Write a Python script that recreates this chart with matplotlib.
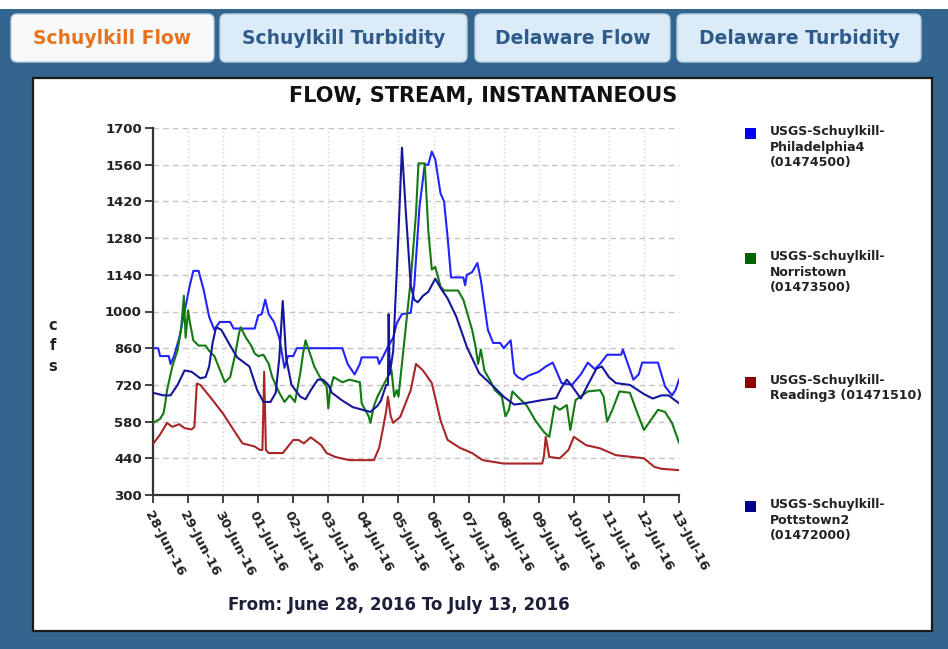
import matplotlib
matplotlib.use('Agg')
import matplotlib.pyplot as plt
from matplotlib.patches import Rectangle, FancyBboxPatch

# ---------------- data ----------------
tick_labels = ['28-Jun-16', '29-Jun-16', '30-Jun-16', '01-Jul-16', '02-Jul-16', '03-Jul-16',
               '04-Jul-16', '05-Jul-16', '06-Jul-16', '07-Jul-16', '08-Jul-16', '09-Jul-16',
               '10-Jul-16', '11-Jul-16', '12-Jul-16', '13-Jul-16']
y_ticks = [300, 440, 580, 720, 860, 1000, 1140, 1280, 1420, 1560, 1700]

# days since 28-Jun-16 00:00 and flow (cfs)
phila_days = [0, 0.15, 0.2, 0.45, 0.5, 0.6, 0.75, 0.9, 1.05, 1.15, 1.3, 1.45, 1.6, 1.75, 1.9, 2.2,
              2.3, 2.9, 2.95, 3.0, 3.1, 3.2, 3.3, 3.45, 3.6, 3.75, 3.85, 4.0, 4.1, 5.4, 5.55, 5.75,
              5.9, 5.95, 6.4, 6.45, 6.55, 6.7, 6.85, 6.95, 7.1, 7.35, 7.45, 7.6, 7.75, 7.85, 7.95,
              8.05, 8.2, 8.3, 8.4, 8.5, 8.85, 8.9, 8.95, 9.1, 9.25, 9.35, 9.55, 9.7, 9.9, 10.0,
              10.2, 10.3, 10.4, 10.55, 10.7, 11.0, 11.2, 11.4, 11.65, 11.95, 12.2, 12.4, 12.6,
              12.75, 12.95, 13.35, 13.4, 13.45, 13.7, 13.85, 13.95, 14.4, 14.6, 14.8, 14.9, 15.0]
phila_cfs = [860, 860, 830, 830, 800, 830, 900, 1000, 1100, 1155, 1155, 1080, 980, 930, 960, 960,
             935, 935, 960, 985, 990, 1045, 990, 960, 900, 785, 830, 830, 860, 860, 800, 760,
             800, 825, 825, 800, 825, 865, 900, 955, 990, 995, 1100, 1400, 1560, 1560, 1610,
             1580, 1450, 1420, 1285, 1130, 1130, 1100, 1140, 1150, 1185, 1120, 930, 880, 880, 860,
             890, 765, 750, 740, 755, 770, 790, 805, 727, 720, 760, 805, 780,
             800, 835, 835, 855, 835, 740, 760, 805, 805, 715, 680, 700, 740]

norr_days = [0, 0.2, 0.3, 0.35, 0.4, 0.55, 0.7, 0.8, 0.88, 0.93, 1.0, 1.05, 1.15, 1.3, 1.5, 1.6,
             1.75, 1.9, 2.05, 2.2, 2.35, 2.45, 2.5, 2.65, 2.8, 2.9, 3.0, 3.15, 3.3, 3.4, 3.6, 3.75,
             3.9, 4.05, 4.2, 4.28, 4.35, 4.5, 4.6, 4.8, 4.95, 5.0, 5.05, 5.15, 5.4, 5.6, 5.9, 5.95,
             6.15, 6.2, 6.3, 6.4, 6.6, 6.8, 6.88, 6.95, 7.0, 7.15, 7.35, 7.5, 7.57, 7.75, 7.85,
             7.95, 8.05, 8.2, 8.3, 8.7, 8.85, 9.1, 9.2, 9.27, 9.35, 9.45, 9.6, 9.75, 9.95, 10.05,
             10.15, 10.25, 10.45, 10.65, 10.9, 11.15, 11.3, 11.35, 11.45, 11.6, 11.8, 11.9, 12.05,
             12.4, 12.75, 12.85, 12.95, 13.1, 13.3, 13.6, 13.8, 14.0, 14.4, 14.6, 14.8, 15.0]
norr_cfs = [575, 590, 612, 650, 700, 790, 852, 930, 1060, 900, 1005, 960, 890, 870, 870, 850,
            830, 780, 730, 750, 840, 915, 940, 900, 870, 840, 830, 835, 800, 750, 690, 655,
            680, 655, 765, 840, 890, 830, 790, 740, 715, 630, 700, 750, 730, 740, 730, 650,
            600, 575, 640, 675, 727, 777, 675, 700, 675, 865, 1120, 1375, 1565, 1565, 1310,
            1160, 1170, 1095, 1080, 1080, 1045, 930, 865, 800, 855, 775, 740, 700, 675, 600,
            625, 695, 668, 643, 585, 540, 522, 560, 640, 625, 643, 548, 662,
            695, 700, 675, 580, 625, 695, 690, 617, 548, 625, 617, 575, 500]

read_days = [0, 0.2, 0.4, 0.55, 0.75, 0.9, 1.1, 1.18, 1.25, 1.35, 1.7, 2.0, 2.3, 2.55, 2.9, 3.05,
             3.12, 3.17, 3.22, 3.3, 3.7, 4.0, 4.15, 4.3, 4.5, 4.65, 4.8, 4.95, 5.2, 5.6, 6.3, 6.45,
             6.55, 6.65, 6.7, 6.78, 6.85, 7.05, 7.35, 7.5, 7.7, 7.95, 8.2, 8.4, 8.75, 9.1, 9.4,
             10.0, 11.1, 11.15, 11.2, 11.3, 11.6, 11.85, 12.0, 12.35, 12.75, 13.2, 14.0, 14.3,
             14.5, 15.0]
read_cfs = [495, 530, 575, 560, 570, 555, 550, 560, 725, 720, 662, 610, 548, 497, 485, 472,
            472, 770, 472, 460, 460, 510, 510, 497, 520, 505, 490, 460, 445, 433, 433, 480,
            548, 620, 675, 600, 575, 598, 700, 800, 775, 727, 585, 510, 480, 460, 433,
            420, 420, 450, 522, 445, 440, 472, 522, 490, 478, 452, 440, 407,
            400, 395]

potts_days = [0, 0.3, 0.5, 0.7, 0.9, 1.1, 1.35, 1.5, 1.6, 1.7, 1.8, 1.95, 2.2, 2.4, 2.75, 2.97,
              3.15, 3.35, 3.5, 3.6, 3.7, 3.8, 3.95, 4.2, 4.35, 4.5, 4.7, 4.85, 5.0, 5.1, 5.4, 5.7,
              6.2, 6.4, 6.5, 6.65, 6.7, 6.72, 6.75, 6.85, 7.0, 7.1, 7.2, 7.35, 7.45, 7.55, 7.7,
              7.85, 8.05, 8.2, 8.4, 8.65, 8.95, 9.3, 9.7, 10.0, 10.3, 10.6, 11.1, 11.5, 11.65,
              11.8, 11.95, 12.2, 12.4, 12.65, 12.8, 13.0, 13.2, 13.6, 14.0, 14.25, 14.5, 14.7, 15.0]
potts_cfs = [690, 680, 680, 720, 775, 770, 745, 750, 790, 880, 940, 930, 870, 825, 790, 700,
             655, 655, 690, 820, 1040, 820, 720, 675, 665, 700, 740, 740, 720, 690, 660, 635,
             617, 640, 660, 720, 720, 990, 760, 850, 1300, 1625, 1400, 1100, 1045, 1035, 1060,
             1075, 1125, 1090, 1050, 980, 865, 765, 715, 675, 645, 650, 662, 670, 710,
             740, 715, 668, 720, 783, 790, 750, 727, 720, 685, 668, 680, 680, 650]

series_names = ['USGS-Schuylkill-\nPhiladelphia4\n(01474500)',
                'USGS-Schuylkill-\nNorristown\n(01473500)',
                'USGS-Schuylkill-\nReading3 (01471510)',
                'USGS-Schuylkill-\nPottstown2\n(01472000)']
line_colors = ['#2323ff', '#137a13', '#a82626', '#16169a']
marker_colors = ['#0000ff', '#006400', '#8b0000', '#00008b']
tab_names = ['Schuylkill Flow', 'Schuylkill Turbidity', 'Delaware Flow', 'Delaware Turbidity']

# ---------------- figure ----------------
W, H = 948, 649
fig = plt.figure(figsize=(W / 100, H / 100), dpi=100)
fig.patch.set_facecolor('#33658f')
T = fig.dpi_scale_trans


def P(x, y):
    return (x / 100, (H - y) / 100)


# white strip on top
fig.patches.append(Rectangle(P(0, 9), W / 100, 9 / 100, transform=T, facecolor='white',
                             edgecolor='none', zorder=0))

# tabs
tab_x = [(11, 214), (220, 467), (475, 670), (677, 921)]
for i, ((x0, x1), name) in enumerate(zip(tab_x, tab_names)):
    fc = '#f7f9fb' if i == 0 else '#dcebf8'
    fig.patches.append(FancyBboxPatch(P(x0, 62), (x1 - x0) / 100, 48 / 100,
                                      boxstyle='round,pad=0,rounding_size=0.06', transform=T,
                                      facecolor=fc, edgecolor='#b7cde0', linewidth=1, zorder=1))
    fig.text(*P((x0 + x1) / 2, 38), name, transform=T, ha='center', va='center',
             fontsize=13.5, fontweight='bold',
             color='#e8731c' if i == 0 else '#2f5b8a', zorder=3)

# white panel
fig.patches.append(Rectangle(P(33, 631), (932 - 33) / 100, (631 - 78) / 100, transform=T,
                             facecolor='white', edgecolor='#1b1b1b', linewidth=1.6, zorder=1))

# axes
ax = fig.add_axes([153 / W, 1 - 495 / H, (679 - 153) / W, (495 - 128) / H])
ax.set_zorder(5)
ax.patch.set_alpha(0)

for d, v, c in zip([phila_days, norr_days, read_days, potts_days],
                   [phila_cfs, norr_cfs, read_cfs, potts_cfs], line_colors):
    ax.plot(d, v, color=c, linewidth=1.5, zorder=3)

ax.set_xlim(0, len(tick_labels) - 1)
ax.set_ylim(y_ticks[0], y_ticks[-1])
ax.set_yticks(y_ticks)
ax.set_xticks(range(len(tick_labels)))
ax.set_xticklabels(tick_labels, rotation=-62, ha='left', va='top', rotation_mode='anchor')
for lab in ax.get_xticklabels() + ax.get_yticklabels():
    lab.set_fontsize(9.5)
    lab.set_fontweight('bold')
    lab.set_color('#222222')
ax.tick_params(axis='both', direction='out', length=6, width=1.3, color='#333333', pad=2)
ax.tick_params(axis='x', pad=4)
for s in ['top', 'right']:
    ax.spines[s].set_visible(False)
for s in ['left', 'bottom']:
    ax.spines[s].set_color('#333333')
    ax.spines[s].set_linewidth(1.6)
ax.yaxis.grid(True, color='#c4c4c4', linestyle=(0, (4, 3)), linewidth=1)
ax.xaxis.grid(True, color='#d6d6d6', linestyle=(0, (1, 2)), linewidth=1)
ax.set_axisbelow(True)

# title, subtitle, y label
fig.text(*P(483, 96), 'FLOW, STREAM, INSTANTANEOUS', transform=T, ha='center', va='center',
         fontsize=15, fontweight='bold', color='#111111', zorder=6)
fig.text(*P(399, 605), 'From: June 28, 2016 To July 13, 2016', transform=T, ha='center',
         va='center', fontsize=12, fontweight='bold', color='#1c1f3a', zorder=6)
fig.text(*P(53, 346), 'c\nf\ns', transform=T, ha='center', va='center', fontsize=10.5,
         fontweight='bold', color='#222222', linespacing=1.45, zorder=6)

# legend
leg_y = [133, 258, 382, 506]
for name, mc, yy in zip(series_names, marker_colors, leg_y):
    fig.patches.append(Rectangle(P(745, yy + 6), 11 / 100, 11 / 100, transform=T,
                                 facecolor=mc, edgecolor='none', zorder=6))
    fig.text(*P(770, yy - 8), name, transform=T, ha='left', va='top', fontsize=9,
             fontweight='bold', color='#222222', linespacing=1.25, zorder=6)

fig.savefig('out.png', dpi=100, facecolor=fig.get_facecolor())
